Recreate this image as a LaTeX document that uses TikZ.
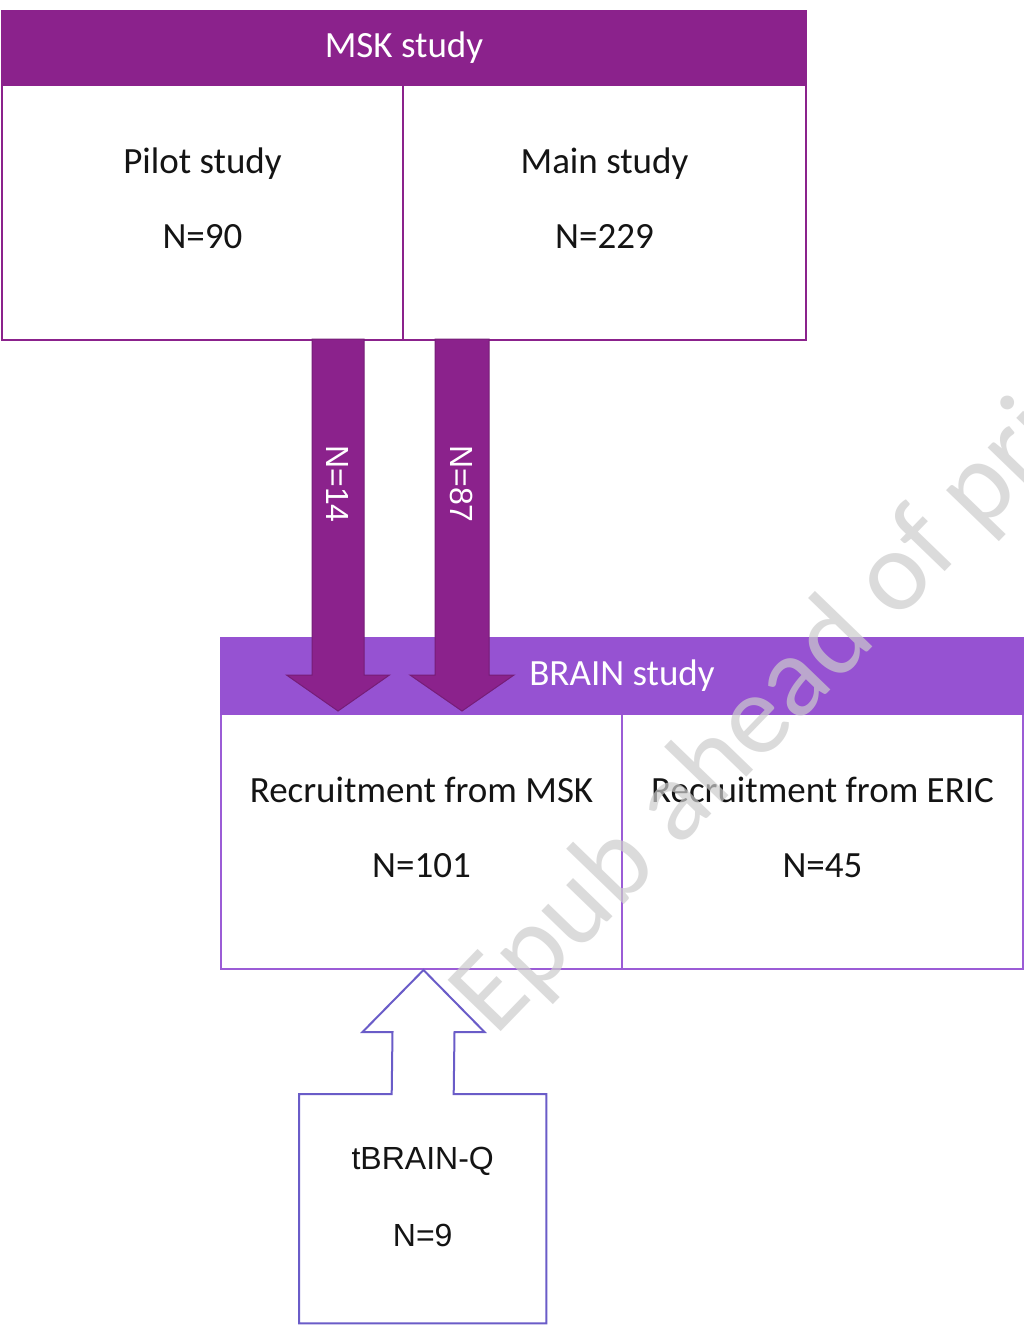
\documentclass[tikz,border=0pt]{standalone}
\usepackage{fontspec}
\setmainfont{Carlito}
\newfontfamily\arialf{Liberation Sans}
\usetikzlibrary{calc}
\definecolor{mskpurple}{RGB}{139,34,140}
\definecolor{brainpurple}{RGB}{150,82,210}
\definecolor{brainborder}{RGB}{155,92,214}
\definecolor{tbqblue}{RGB}{106,92,200}
\definecolor{txtdark}{RGB}{20,20,20}
\begin{document}
\begin{tikzpicture}[x=1pt,y=-1pt,
  hdr/.style={draw=#1,fill=#1,line width=2pt,text=white,inner sep=0pt,anchor=north west,
    font=\fontsize{37}{44}\selectfont},
  cell/.style={draw=#1,fill=white,line width=2pt,inner sep=0pt,anchor=north west},
  txt/.style={text=txtdark,align=center,inner sep=0pt,font=\fontsize{37}{75}\selectfont},
  blockarrow/.style={fill=mskpurple,draw=mskpurple!85!black,line width=1pt},
  arrlabel/.style={text=white,rotate=-90,inner sep=0pt,font=\arialf\fontsize{32}{38}\selectfont},
  upoutline/.style={draw=tbqblue,fill=white,line width=2pt,line join=miter},
  watermark/.style={text=gray!40,opacity=0.7,inner sep=0pt,anchor=base west,rotate=46,
    font=\fontsize{115}{130}\selectfont}
]
\useasboundingbox (0,0) rectangle (1024,1326);
\fill[white] (0,0) rectangle (1024,1326);

% MSK study
\node[cell=mskpurple,minimum width=401pt,minimum height=255pt] (pilot) at (1,84) {};
\node[cell=mskpurple,minimum width=403pt,minimum height=255pt] (main) at (402,84) {};
\node[hdr=mskpurple,minimum width=804pt,minimum height=74pt] (msk) at (1,10) {MSK study};
\node[txt] (pilotT) at ($(pilot.center)+(0,-14)$) {Pilot study\\N=90};
\node[txt] (mainT) at ($(main.center)+(0,-14)$) {Main study\\N=229};

% BRAIN study
\node[cell=brainborder,minimum width=401pt,minimum height=255pt] (bmsk) at (220,713) {};
\node[cell=brainborder,minimum width=401pt,minimum height=255pt] (beric) at (621,713) {};
\node[hdr=brainpurple,minimum width=802pt,minimum height=76pt] (brain) at (220,637) {BRAIN study};
\node[txt] (bmskT) at ($(bmsk.center)+(0,-14.5)$) {Recruitment from MSK\\N=101};
\node[txt] (bericT) at ($(beric.center)+(0,-14.5)$) {Recruitment from ERIC\\N=45};

% down arrows
\coordinate (a1top) at (338,339);
\coordinate (a1tip) at (338,711);
\coordinate (a2top) at (462,339);
\coordinate (a2tip) at (462,711);
\draw[blockarrow] ($(a1top)+(-26,0)$) -- ($(a1top)+(26,0)$) -- ($(a1tip)+(26,-36)$)
  -- ($(a1tip)+(51.5,-36)$) -- (a1tip) -- ($(a1tip)+(-51.5,-36)$) -- ($(a1tip)+(-26,-36)$) -- cycle;
\draw[blockarrow] ($(a2top)+(-27,0)$) -- ($(a2top)+(27,0)$) -- ($(a2tip)+(27,-36)$)
  -- ($(a2tip)+(52,-36)$) -- (a2tip) -- ($(a2tip)+(-52,-36)$) -- ($(a2tip)+(-27,-36)$) -- cycle;
\node[arrlabel] (l14) at (338,484) {N=14};
\node[arrlabel] (l87) at (462,484) {N=87};

% tBRAIN-Q box with up arrow
\node[inner sep=0pt,minimum width=247pt,minimum height=229pt,anchor=north west] (tbq) at (299,1094) {};
\coordinate (uptip) at ($(bmsk.south)+(2,0)$);
\draw[upoutline] (tbq.north west) -- ($(tbq.north)+(-31,0)$) -- ($(uptip)+(-31,62)$)
  -- ($(uptip)+(-61,62)$) -- (uptip) -- ($(uptip)+(61,62)$) -- ($(uptip)+(31,62)$)
  -- ($(tbq.north)+(31,0)$) -- (tbq.north east) -- (tbq.south east) -- (tbq.south west) -- cycle;
\node[txt,font=\arialf\fontsize{32}{77}\selectfont] (tbqT) at ($(tbq.center)+(0,-12)$) {tBRAIN-Q\\N=9};

% watermark
\begin{scope}
\clip (0,0) rectangle (1024,1326);
\node[watermark] (wm) at (495,1038) {Epub ahead of print};
\end{scope}
\end{tikzpicture}
\end{document}
